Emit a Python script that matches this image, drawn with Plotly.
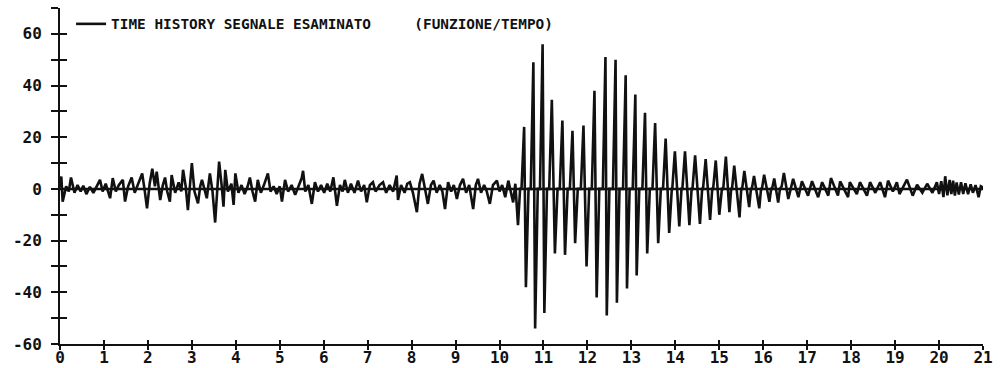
import plotly.graph_objects as go

# Pre-event record, 0 - 10.5 s (time in s, signal value)
PRE_T = [0.00, 0.03, 0.06, 0.14, 0.20, 0.25, 0.33, 0.40, 0.47, 0.53, 0.60, 0.68, 0.76, 0.84, 0.91, 0.97,
         1.04, 1.14, 1.20, 1.27, 1.34, 1.43, 1.48, 1.55, 1.63, 1.70, 1.78, 1.87, 1.93, 1.98, 2.04, 2.10,
         2.16, 2.20, 2.28, 2.34, 2.39, 2.44, 2.50, 2.54, 2.62, 2.70, 2.76, 2.80, 2.86, 2.91, 2.96, 3.00,
         3.06, 3.14, 3.19, 3.23, 3.30, 3.34, 3.41, 3.47, 3.53, 3.58, 3.62, 3.68, 3.72, 3.76, 3.82, 3.90,
         3.95, 3.99, 4.06, 4.13, 4.20, 4.27, 4.32, 4.38, 4.44, 4.50, 4.57, 4.64, 4.73, 4.79, 4.86, 4.93,
         5.00, 5.05, 5.12, 5.19, 5.27, 5.35, 5.43, 5.50, 5.53, 5.58, 5.65, 5.73, 5.80, 5.87, 5.94, 6.01,
         6.08, 6.15, 6.22, 6.30, 6.37, 6.43, 6.48, 6.55, 6.62, 6.70, 6.78, 6.85, 6.92, 6.98, 7.05, 7.12,
         7.18, 7.27, 7.35, 7.42, 7.50, 7.58, 7.66, 7.69, 7.76, 7.84, 7.90, 7.96, 8.03, 8.12, 8.18, 8.24,
         8.30, 8.37, 8.44, 8.50, 8.57, 8.64, 8.70, 8.76, 8.83, 8.90, 8.96, 9.03, 9.10, 9.17, 9.24, 9.31,
         9.40, 9.46, 9.51, 9.58, 9.65, 9.71, 9.78, 9.85, 9.94, 10.00, 10.06, 10.13, 10.20, 10.26, 10.31,
         10.36, 10.42, 10.47]
PRE_V = [0.5, 4.8, -4.9, 1.0, -1.0, 4.4, -1.5, 1.5, -1.0, 1.2, -2.0, 0.8, -1.5, 1.5, 3.5, -1.0,
         2.0, -3.6, 4.2, -1.0, 1.5, 3.5, -4.9, 1.0, 4.4, -1.5, 2.0, 6.0, -1.0, -7.5, 2.0, 7.8,
         1.0, 6.7, -4.3, 1.5, 4.4, -1.0, -4.9, 5.4, -1.5, 2.5, -1.0, 7.4, 1.0, -8.2, 2.0, 10.0,
         -1.0, -5.6, 1.0, 3.5, -1.0, -3.6, 6.0, -1.0, -13.0, 2.0, 10.6, 1.0, -6.9, 7.4, -1.0, 2.0,
         -6.2, 6.0, -1.5, 1.5, -2.0, 1.0, 4.4, -1.0, -4.9, 3.5, -1.5, 1.5, 6.0, -1.0, 1.0, -2.0,
         1.0, -4.9, 3.5, -1.0, 1.5, -2.3, 1.5, 4.2, 7.0, -1.0, 1.5, -5.8, 2.6, -1.0, 1.5, -1.5,
         2.0, -1.0, 4.5, -6.5, 1.5, -1.0, 3.5, -1.5, 2.0, -1.5, 3.2, -1.0, 1.5, -5.2, 1.5, 2.6,
         -1.0, 1.5, 2.6, -1.5, 1.5, -1.0, 5.2, -4.3, 1.5, -1.5, 2.0, 2.6, -1.5, -9.0, 2.0, 5.8,
         0.5, -5.8, 1.5, 3.2, -1.5, 1.5, -1.0, -7.8, 2.6, -1.0, 1.5, -3.9, 1.5, 3.9, -1.5, 1.5,
         -7.8, 1.5, 3.9, -1.5, 1.5, -1.0, -5.8, 1.5, 3.2, -1.0, 1.5, -3.2, 3.2, -1.0, -5.2,
         2.0, -14.0, 0.5]

# Main event, 10.5 - 16.4 s: each cycle leaves the zero line, reaches its peak,
# swings down to its trough and returns to zero
EVENT_T = [10.50, 10.56, 10.60, 10.66, 10.71, 10.77, 10.81, 10.87, 10.92, 10.98, 11.02, 11.08,
           11.13, 11.19, 11.26, 11.32, 11.37, 11.43, 11.49, 11.55, 11.60, 11.66, 11.72, 11.78,
           11.85, 11.91, 11.98, 12.04, 12.10, 12.16, 12.21, 12.27, 12.35, 12.41, 12.44, 12.50,
           12.58, 12.64, 12.67, 12.73, 12.81, 12.87, 12.90, 12.96, 13.03, 13.09, 13.12, 13.18,
           13.25, 13.31, 13.36, 13.42, 13.48, 13.54, 13.61, 13.67, 13.72, 13.78, 13.86, 13.92,
           13.93, 13.99, 14.09, 14.14, 14.16, 14.22, 14.32, 14.37, 14.39, 14.45, 14.56, 14.61,
           14.63, 14.69, 14.79, 14.84, 14.86, 14.92, 15.00, 15.06, 15.09, 15.15, 15.23, 15.27,
           15.29, 15.34, 15.46, 15.50, 15.52, 15.57, 15.68, 15.72, 15.74, 15.79, 15.91, 15.95,
           15.97, 16.02, 16.14, 16.18, 16.20, 16.25, 16.34, 16.38]
EVENT_V = [0, 24.0, -38.0, 0, 0, 49.0, -54.0, 0, 0, 56.0, -48.0, 0,
           0, 34.5, -25.0, 0, 0, 26.5, -25.5, 0, 0, 22.5, -21.0, 0,
           0, 24.5, -30.0, 0, 0, 38.0, -42.0, 0, 0, 51.0, -49.0, 0,
           0, 50.0, -44.0, 0, 0, 44.0, -38.5, 0, 0, 36.5, -33.5, 0,
           0, 29.5, -25.0, 0, 0, 25.5, -21.0, 0, 0, 19.5, -17.0, 0,
           0, 14.5, -14.5, 0, 0, 14.5, -14.0, 0, 0, 13.0, -13.5, 0,
           0, 11.5, -12.0, 0, 0, 11.0, -10.0, 0, 0, 12.5, -9.0, 0,
           0, 9.0, -11.0, 0, 0, 7.0, -7.0, 0, 0, 5.0, -7.5, 0,
           0, 5.5, -5.0, 0, 0, 4.0, -5.3, 0]

# Decay, 16.4 - 21 s
TAIL_T = [16.42, 16.47, 16.57, 16.68, 16.80, 16.88, 17.02, 17.11, 17.25, 17.34, 17.48, 17.54,
          17.70, 17.75, 17.93, 17.97, 18.13, 18.20, 18.36, 18.43, 18.55, 18.66, 18.77, 18.84,
          18.95, 19.04, 19.10, 19.27, 19.40, 19.50, 19.62, 19.73, 19.85, 19.95, 20.00, 20.05,
          20.10, 20.14, 20.19, 20.24, 20.28, 20.32, 20.36, 20.40, 20.45, 20.50, 20.55, 20.60,
          20.66, 20.72, 20.77, 20.83, 20.90, 20.95, 21.00]
TAIL_V = [1.0, 6.2, -3.9, 3.9, -3.2, 3.0, -2.6, 3.0, -3.2, 2.6, -2.6, 4.2,
          -2.6, 2.9, -3.2, 2.6, -2.0, 2.6, -2.6, 2.6, -1.5, 2.6, -3.2, 3.2,
          -1.0, 2.6, -2.0, 3.6, -2.6, 1.6, -1.5, 2.0, -1.5, 2.6, -2.0, 3.0,
          -3.2, 4.9, -2.5, 3.5, -2.0, 3.2, -2.6, 2.5, -2.2, 2.6, -2.0, 2.2,
          -2.0, 1.8, -1.5, 1.5, -3.2, 1.0, 0.5]

# Zero reference level drawn across the whole record
ZERO_LEVEL = 0.0

X_RANGE = [0, 21]
Y_RANGE = [-60, 70]
Y_TICKS = [-60, -50, -40, -30, -20, -10, 0, 10, 20, 30, 40, 50, 60, 70]
Y_LABELS = ["-60", "", "-40", "", "-20", "", "0", "", "20", "", "40", "", "60", ""]
X_TICKS = list(range(0, 22))
X_LABELS = [str(v) for v in X_TICKS]

SERIES_NAME = "TIME HISTORY SEGNALE ESAMINATO\u00a0\u00a0\u00a0\u00a0\u00a0(FUNZIONE/TEMPO)"

t = PRE_T + EVENT_T + TAIL_T
v = PRE_V + EVENT_V + TAIL_V

INK = "#111111"
TICK_FONT = dict(family="DejaVu Sans Mono", size=16, color=INK, weight="bold")

fig = go.Figure()
fig.add_trace(go.Scatter(x=t, y=v, mode="lines", name=SERIES_NAME,
                         line=dict(color=INK, width=2.6)))
# zero level, on the overlaid axis pair that carries the inner half of the ticks
fig.add_trace(go.Scatter(x=X_RANGE, y=[ZERO_LEVEL] * len(X_RANGE), mode="lines",
                         xaxis="x2", yaxis="y2", showlegend=False, hoverinfo="skip",
                         line=dict(color=INK, width=2.5)))

axis_common = dict(showgrid=False, tickcolor=INK, tickwidth=1.6, zeroline=False,
                   automargin=False)

fig.update_layout(
    width=1001, height=368,
    margin=dict(l=60, r=18, t=8, b=24),
    paper_bgcolor="white", plot_bgcolor="white",
    showlegend=True,
    legend=dict(x=0.012, y=1.0, xanchor="left", yanchor="top", bgcolor="rgba(0,0,0,0)",
                font=dict(family="DejaVu Sans Mono", size=14.4, color=INK, weight="bold"),
                itemwidth=30),
    xaxis=dict(range=X_RANGE, tickmode="array", tickvals=X_TICKS, ticktext=X_LABELS,
               ticks="outside", ticklen=4, showline=True, linecolor=INK, linewidth=2,
               ticklabelstandoff=-6, tickfont=TICK_FONT, **axis_common),
    xaxis2=dict(range=X_RANGE, overlaying="x", anchor="y2", side="bottom", tickmode="array",
                tickvals=X_TICKS, ticks="inside", ticklen=4, showticklabels=False,
                showline=False, **axis_common),
    yaxis=dict(range=Y_RANGE, tickmode="array", tickvals=Y_TICKS, ticktext=Y_LABELS,
               ticks="outside", ticklen=7, showline=True, linecolor=INK, linewidth=2,
               ticklabelstandoff=6, tickfont=TICK_FONT, **axis_common),
    yaxis2=dict(range=Y_RANGE, overlaying="y", anchor="x2", side="left", tickmode="array",
                tickvals=Y_TICKS, ticks="inside", ticklen=7, showticklabels=False,
                showline=False, **axis_common),
)

fig.write_html("out.html")
